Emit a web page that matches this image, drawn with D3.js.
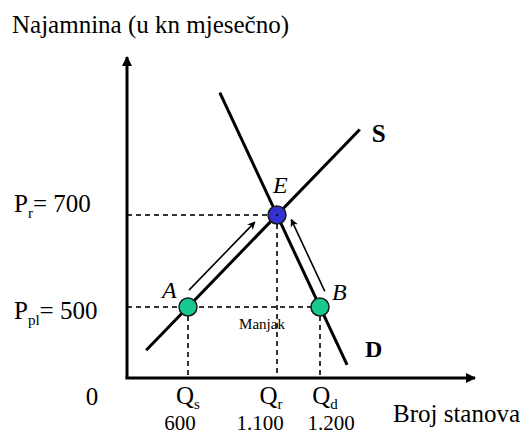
<!DOCTYPE html>
<html>
<head>
<meta charset="utf-8">
<script src="https://cdn.jsdelivr.net/npm/d3@7"></script>
<style>
  body { margin: 0; background: #fff; }
</style>
</head>
<body>
<div id="chart-area"></div>
<script>
// market values (rent in kn, number of flats)
let quantities = [600, 1100, 1200];
let qNames = ["s", "r", "d"];
let qLabels = ["600", "1.100", "1.200"];
let prices = [700, 500];
let pNames = ["r", "pl"];
let pLabels = ["700", "500"];
let points = [
  {name: "A", q: 600, p: 500},
  {name: "E", q: 1100, p: 700},
  {name: "B", q: 1200, p: 500}
];

let width = 521, height = 436;

let svg = d3.select("#chart-area")
  .append("svg")
  .attr("width", width)
  .attr("height", height);

// schematic scales (not proportional, like the textbook sketch)
let x = d3.scaleLinear().domain([0, 600, 1100, 1200]).range([127, 188, 277, 320]);
let y = d3.scaleLinear().domain([0, 500, 700]).range([378, 307, 215]);

function label(xp, yp, size) {
  return svg.append("text")
    .attr("x", xp).attr("y", yp)
    .style("font-family", "'Liberation Serif'")
    .style("font-size", size + "px")
    .attr("fill", "#000");
}

let defs = svg.append("defs");
defs.append("marker")
  .attr("id", "head")
  .attr("viewBox", "0 0 10 10")
  .attr("refX", 9).attr("refY", 5)
  .attr("markerWidth", 10).attr("markerHeight", 10)
  .attr("markerUnits", "userSpaceOnUse")
  .attr("orient", "auto")
  .append("path").attr("d", "M0,0L10,5L0,10z").attr("fill", "#000");
defs.append("marker")
  .attr("id", "small")
  .attr("viewBox", "0 0 10 10")
  .attr("refX", 9).attr("refY", 5)
  .attr("markerWidth", 8).attr("markerHeight", 8)
  .attr("markerUnits", "userSpaceOnUse")
  .attr("orient", "auto")
  .append("path").attr("d", "M0,0L10,5L0,10L3,5z").attr("fill", "#000");

// ---- dashed guides ----
let dash = svg.append("g").attr("stroke", "#333").attr("stroke-width", 2).attr("stroke-dasharray", "5,4");
dash.append("line").attr("x1", x(0)).attr("x2", x(1100)).attr("y1", y(700)).attr("y2", y(700));
dash.append("line").attr("x1", x(0)).attr("x2", x(1200)).attr("y1", y(500)).attr("y2", y(500));
points.forEach(function(d) {
  dash.append("line").attr("x1", x(d.q)).attr("x2", x(d.q)).attr("y1", y(d.p)).attr("y2", y(0));
});

// ---- axes ----
svg.append("line").attr("x1", x(0)).attr("y1", y(0)).attr("x2", x(0)).attr("y2", 57)
  .attr("stroke", "#000").attr("stroke-width", 3).attr("marker-end", "url(#head)");
svg.append("line").attr("x1", x(0) - 1.5).attr("y1", y(0)).attr("x2", 475).attr("y2", y(0))
  .attr("stroke", "#000").attr("stroke-width", 3).attr("marker-end", "url(#head)");

// ---- supply & demand ----
function pt(d) { return [x(d.q), y(d.p)]; }
function along(a, b, t) { return [a[0] + (b[0] - a[0]) * t, a[1] + (b[1] - a[1]) * t]; }
let A = pt(points[0]), E = pt(points[1]), B = pt(points[2]);

let s0 = along(A, E, -0.47), s1 = along(A, E, 1.93);
let d0 = along(E, B, -1.33), d1 = along(E, B, 1.63);
svg.append("line").attr("x1", s0[0]).attr("y1", s0[1]).attr("x2", s1[0]).attr("y2", s1[1])
  .attr("stroke", "#000").attr("stroke-width", 3);
svg.append("line").attr("x1", d0[0]).attr("y1", d0[1]).attr("x2", d1[0]).attr("y2", d1[1])
  .attr("stroke", "#000").attr("stroke-width", 3);

// movement arrows parallel to the curves
function parallel(a, b, t0, t1, off) {
  let dx = b[0] - a[0], dy = b[1] - a[1], len = Math.sqrt(dx * dx + dy * dy);
  let nx = dy / len * off, ny = -dx / len * off;
  let p0 = along(a, b, t0), p1 = along(a, b, t1);
  svg.append("line")
    .attr("x1", p0[0] + nx).attr("y1", p0[1] + ny)
    .attr("x2", p1[0] + nx).attr("y2", p1[1] + ny)
    .attr("stroke", "#000").attr("stroke-width", 1.6)
    .attr("marker-end", "url(#small)");
}
parallel(A, E, 0.1, 0.84, 11);
parallel(B, E, 0.12, 0.9, -11);

// ---- points ----
svg.selectAll(".pt")
  .data(points)
  .enter()
  .append("circle")
  .attr("class", "pt")
  .attr("cx", function(d) { return x(d.q); })
  .attr("cy", function(d) { return y(d.p); })
  .attr("r", 9)
  .attr("fill", function(d) { return d.name == "E" ? "#3232d2" : "#17c991"; })
  .attr("stroke", "#1a1a1a")
  .attr("stroke-width", 1.5);
svg.append("circle").attr("cx", E[0]).attr("cy", E[1]).attr("r", 1).attr("fill", "#000");

// point letters
let ptLab = {A: [-26, -9], E: [-4, -22], B: [12, -7]};
points.forEach(function(d) {
  label(x(d.q) + ptLab[d.name][0], y(d.p) + ptLab[d.name][1], 24)
    .style("font-style", "italic")
    .text(d.name);
});

label(s1[0] + 12, s1[1] + 13, 25).style("font-weight", "bold").text("S");
label(d1[0] + 18, d1[1] - 8, 24).style("font-weight", "bold").text("D");

label(262, 329, 15).attr("text-anchor", "middle").text("Manjak");

// ---- axis labels ----
label(12, 33, 25).text("Najamnina (u kn mjesečno)");
label(393, 422, 25).text("Broj stanova");
label(92, 405, 25).attr("text-anchor", "middle").text("0");

// price labels
let pBase = [-3, 12];
prices.forEach(function(p, i) {
  let t = label(14, y(p) + pBase[i], 25);
  t.append("tspan").text("P");
  t.append("tspan").attr("dy", 6).style("font-size", "15px").text(pNames[i]);
  t.append("tspan").attr("dy", -6).text("= " + pLabels[i]);
});

// quantity labels
let qOff = [0, -6, 5], nOff = [-8, -17, 11];
quantities.forEach(function(q, i) {
  let t = label(x(q) + qOff[i], 404, 25).attr("text-anchor", "middle");
  t.append("tspan").text("Q");
  t.append("tspan").attr("dy", 5).style("font-size", "15px").text(qNames[i]);
  label(x(q) + nOff[i], 430, 21)
    .attr("text-anchor", "middle").text(qLabels[i]);
});
</script>
</body>
</html>
